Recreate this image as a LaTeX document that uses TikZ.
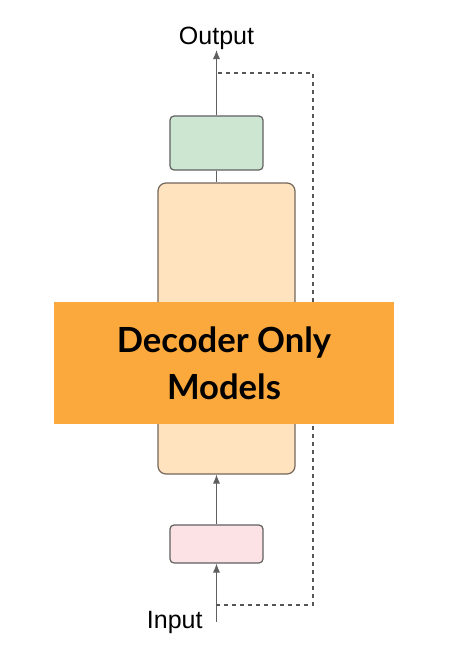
\documentclass[tikz,border=0pt]{standalone}
\usepackage{fontspec}
\setmainfont{Liberation Sans}
\newfontfamily\bannerfont{Lato}
\usetikzlibrary{arrows.meta}
\definecolor{headgreen}{HTML}{CCE6D1}
\definecolor{decpeach}{HTML}{FFE3BF}
\definecolor{embpink}{HTML}{FCE1E5}
\definecolor{bannerorange}{HTML}{FBA83C}
\definecolor{edgegray}{HTML}{606060}
\newcommand{\arw}{-{Latex[length=4.5pt,width=3.6pt]}}
\tikzset{
  block/.style={draw=edgegray, line width=0.6pt, rounded corners=2pt, inner sep=0pt},
  link/.style={draw=edgegray, line width=0.5pt},
  loopback/.style={draw=edgegray!90!black, line width=0.6pt, dash pattern=on 2pt off 2pt},
  label/.style={inner sep=0pt, font=\fontsize{12.5}{15}\selectfont}
}
\begin{document}
\begin{tikzpicture}[x=.5pt,y=-.5pt]
\useasboundingbox (0,0) rectangle (455,650);
% blocks
\node[block, fill=headgreen, minimum width=46.5pt, minimum height=27pt] (head) at (216.5,143) {};
\node[block, fill=decpeach, rounded corners=4pt, draw=edgegray!80!brown, minimum width=68.5pt, minimum height=145.5pt] (decoder) at (226.5,328.5) {};
\node[block, fill=embpink, minimum width=46.5pt, minimum height=19pt] (embed) at (216.5,544) {};
% texts
\node[label, anchor=south] (output) at (216.5,50) {Output};
\node[label, anchor=base east] (input) at (203,628) {Input};
\coordinate (inbot) at (216.5,622);
\coordinate (tapin) at (216.5,605);
\coordinate (fbcorner) at (313,73);
\coordinate (tapout) at (218,73);
% connectors
\draw[link,\arw] (inbot) -- (embed.south);
\draw[link,\arw] (embed.north) -- (decoder.south -| embed.north);
\draw[link] (head.south) -- (decoder.north -| head.south);
\draw[link,\arw] (head.north) -- (output.south);
%feedback loop
\draw[loopback] (tapin) -| (fbcorner) -- (tapout);
% banner
\node[fill=bannerorange, minimum width=170pt, minimum height=61pt, inner sep=0pt,
  align=center, font=\bannerfont\bfseries\fontsize{17.3}{23.5}\selectfont] (banner) at (224,363)
  {Decoder Only\\Models};
\end{tikzpicture}
\end{document}
